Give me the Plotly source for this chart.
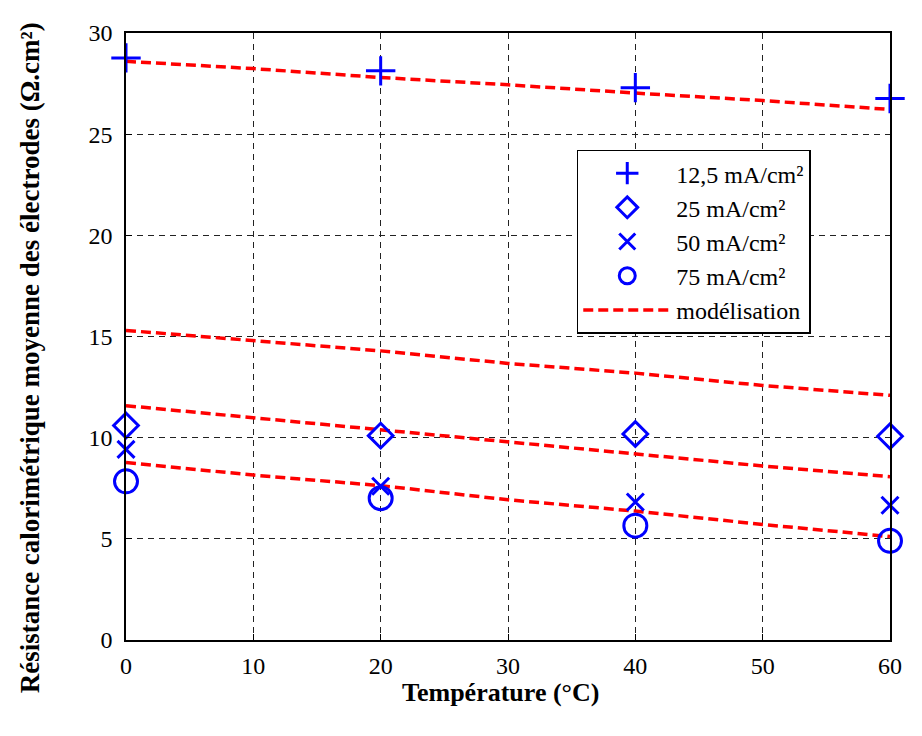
import plotly.graph_objects as go

temps = [0, 20, 40, 60]
r_125 = [28.77, 28.13, 27.3, 26.76]
r_25 = [10.6, 10.1, 10.18, 10.07]
r_50 = [9.42, 7.6, 6.82, 6.66]
r_75 = [7.84, 7.01, 5.65, 4.9]

model_t = [0, 10, 20, 30, 40, 50, 60]
model_125 = [28.6, 28.24, 27.8, 27.44, 27.03, 26.66, 26.22]
model_25 = [15.3, 14.8, 14.29, 13.67, 13.19, 12.58, 12.09]
model_50 = [11.58, 10.99, 10.39, 9.82, 9.22, 8.6, 8.07]
model_75 = [8.77, 8.15, 7.63, 6.93, 6.37, 5.71, 5.11]

labels = ["12,5 mA/cm²", "25 mA/cm²", "50 mA/cm²", "75 mA/cm²"]
symbols = ["cross-thin-open", "diamond-open", "x-thin-open", "circle-open"]
sizes = [21, 19, 17, 23]

x_ticks = [0, 10, 20, 30, 40, 50, 60]
y_ticks = [0, 5, 10, 15, 20, 25, 30]

BLUE = "#0000FF"
RED = "#FF0000"
FONT = "Liberation Serif"

fig = go.Figure()

models = [model_125, model_25, model_50, model_75]
for i, m in enumerate(models):
    fig.add_trace(go.Scatter(
        x=model_t, y=m, mode="lines",
        line=dict(color=RED, width=3.5, dash="10px,5px"),
        name="modélisation", showlegend=(i == 0), legendrank=5,
        legendgroup="g5", hoverinfo="skip"))

for i, vals in enumerate([r_125, r_25, r_50, r_75]):
    fig.add_trace(go.Scatter(
        x=temps, y=vals, mode="markers", name=labels[i], legendrank=i + 1,
        legendgroup="g%d" % (i + 1),
        marker=dict(symbol=symbols[i], size=sizes[i], color=BLUE,
                    line=dict(color=BLUE, width=3)),
        cliponaxis=False))

axis_common = dict(
    showline=True, linecolor="black", linewidth=1.5, mirror=True,
    showgrid=True, gridcolor="#222", gridwidth=1, griddash="6px,5px",
    zeroline=False, ticks="inside", ticklen=6, tickcolor="black",
    tickfont=dict(family=FONT, size=24, color="black"),
)

fig.update_xaxes(range=[0, 60], tickvals=x_ticks, ticklabelstandoff=3, **axis_common)
fig.update_yaxes(range=[0, 30], tickvals=y_ticks, ticklabelstandoff=7, **axis_common)

fig.update_layout(
    width=906, height=720,
    margin=dict(l=118, r=13, t=16, b=88),
    plot_bgcolor="white", paper_bgcolor="white",
    font=dict(family=FONT, color="black"),
    legend=dict(
        x=0.59, y=0.808, xanchor="left", yanchor="top",
        bordercolor="black", borderwidth=1.5, bgcolor="white",
        font=dict(family=FONT, size=24, color="black"),
        itemsizing="trace", itemwidth=88,
        traceorder="grouped", tracegroupgap=0,
    ),
    annotations=[
        dict(text="<b>Résistance calorimétrique moyenne des électrodes (Ω.cm²)</b>",
             xref="paper", yref="paper", x=0, y=0.464, xshift=-96,
             xanchor="center", yanchor="middle", textangle=-90, showarrow=False,
             font=dict(family=FONT, size=27, color="black")),
        dict(text="<b>Température (°C)</b>",
             xref="paper", yref="paper", x=0.49, y=0, yshift=-52,
             xanchor="center", yanchor="middle", showarrow=False,
             font=dict(family=FONT, size=26, color="black")),
    ],
)

fig.write_html("out.html", config={"displayModeBar": False})
